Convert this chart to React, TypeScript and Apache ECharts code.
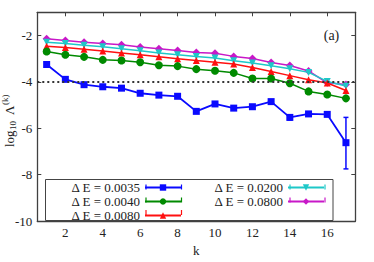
import React, { useEffect, useRef } from "react";
import * as echarts from "echarts";

const kValues = [1, 2, 3, 4, 5, 6, 7, 8, 9, 10, 11, 12, 13, 14, 15, 16, 17];
const seriesNames = ["Δ E = 0.0035", "Δ E = 0.0040", "Δ E = 0.0080", "Δ E = 0.0200", "Δ E = 0.0800"];
const dE0035 = [-3.25, -3.89, -4.12, -4.21, -4.27, -4.49, -4.57, -4.62, -5.27, -4.95, -5.13, -5.07, -4.85, -5.53, -5.38, -5.40, -6.62];
const dE0040 = [-2.69, -2.83, -2.92, -3.05, -3.08, -3.15, -3.28, -3.32, -3.45, -3.52, -3.61, -3.85, -3.85, -4.06, -4.41, -4.54, -4.71];
const dE0080 = [-2.46, -2.52, -2.59, -2.67, -2.75, -2.83, -2.92, -3.00, -3.08, -3.15, -3.23, -3.38, -3.55, -3.73, -3.91, -4.05, -4.37];
const dE0200 = [-2.29, -2.34, -2.42, -2.49, -2.57, -2.66, -2.75, -2.83, -2.90, -2.97, -3.09, -3.19, -3.30, -3.43, -3.59, -3.98, -4.18];
const dE0800 = [-2.14, -2.22, -2.29, -2.34, -2.40, -2.50, -2.57, -2.65, -2.73, -2.77, -2.90, -2.99, -3.16, -3.29, -3.53, -4.04, -4.11];
const errK = [14, 17];
const errLow = [-5.64, -7.75];
const errHigh = [-5.43, -5.53];
const xTickValues = [2, 4, 6, 8, 10, 12, 14, 16];
const thresholdValue = -4;

const FONT = "Liberation Serif";
const AXIS_COLOR = "#404040";
const colors = ["#0a0aff", "#008a00", "#ff1010", "#1ec8c8", "#c818c8"];
const symbols = ["rect", "circle", "triangle", "path://M0,0 L10,0 L5,9 Z", "diamond"];
const symbolSizes = [7, 8, 7, 7, 8];

export default function App() {
  const ref = useRef<HTMLDivElement>(null);
  useEffect(() => {
    if (!ref.current) return;
    const chart = echarts.init(ref.current, null, { renderer: "svg" });
    const allData = [dE0035, dE0040, dE0080, dE0200, dE0800];
    const lineSeries = allData.map((arr, i) => ({
      type: "line",
      name: seriesNames[i],
      data: kValues.map((k, j) => [k, arr[j]]),
      symbol: symbols[i],
      symbolSize: symbolSizes[i],
      color: colors[i],
      lineStyle: { color: colors[i], width: i === 0 ? 1.8 : 1.5 },
      itemStyle: { color: colors[i] },
      z: 2 + (5 - i) * 0.01,
      markLine:
        i === 0
          ? {
              silent: true,
              symbol: "none",
              label: { show: false },
              lineStyle: { color: "#333", width: 2, type: [2, 3] },
              data: [{ yAxis: thresholdValue }],
            }
          : undefined,
    }));
    const errData = errK.map((k, i) => [k, errLow[i], errHigh[i]]);
    const legendText = { fontFamily: FONT, fontSize: 13, color: "#222", lineHeight: 12 };
    const capStyle = (c: string) => ({ stroke: c, lineWidth: 1.2 });
    const legendCaps: any[] = [];
    const capRows = [
      { xs: [146, 181.5], ys: [187, 200, 212.5], cols: [colors[0], colors[1], colors[2]] },
      { xs: [290, 325], ys: [187, 200], cols: [colors[3], colors[4]] },
    ];
    capRows.forEach((g) => {
      g.ys.forEach((y, r) => {
        g.xs.forEach((x) => {
          legendCaps.push({ type: "line", z: 5, shape: { x1: x, y1: y - 2.5, x2: x, y2: y + 2.5 }, style: capStyle(g.cols[r]), silent: true });
        });
      });
    });
    const option: any = {
      animation: false,
      textStyle: { fontFamily: FONT },
      grid: { left: 37.3, top: 12.3, right: 18.7, bottom: 39.3, containLabel: false },
      xAxis: [
        {
          type: "value",
          min: 0.5,
          max: 17.5,
          position: "bottom",
          name: "k",
          nameLocation: "middle",
          nameGap: 19,
          nameTextStyle: { fontFamily: FONT, fontSize: 13, color: "#222", verticalAlign: "top" },
          axisLine: { show: true, lineStyle: { color: AXIS_COLOR, width: 1.3 } },
          axisTick: { show: true, inside: true, length: 4, customValues: xTickValues, lineStyle: { color: AXIS_COLOR } },
          axisLabel: { show: true, customValues: xTickValues, fontFamily: FONT, fontSize: 13, color: "#222", margin: 5 },
          splitLine: { show: false },
        },
        {
          type: "value",
          min: 0.5,
          max: 17.5,
          position: "top",
          axisLine: { show: true, onZero: false, lineStyle: { color: AXIS_COLOR, width: 1.3 } },
          axisTick: { show: true, inside: true, length: 4, customValues: xTickValues, lineStyle: { color: AXIS_COLOR } },
          axisLabel: { show: false },
          splitLine: { show: false },
        },
      ],
      yAxis: [
        {
          type: "value",
          min: -10,
          max: -1,
          interval: 2,
          position: "left",
          axisLine: { show: true, onZero: false, lineStyle: { color: AXIS_COLOR, width: 1.3 } },
          axisTick: { show: true, inside: true, length: 4, lineStyle: { color: AXIS_COLOR } },
          axisLabel: { fontFamily: FONT, fontSize: 13, color: "#222", margin: 5, showMaxLabel: false },
          splitLine: { show: false },
        },
        {
          type: "value",
          min: -10,
          max: -1,
          interval: 2,
          position: "right",
          axisLine: { show: true, onZero: false, lineStyle: { color: AXIS_COLOR, width: 1.3 } },
          axisTick: { show: true, inside: true, length: 4, lineStyle: { color: AXIS_COLOR } },
          axisLabel: { show: false },
          splitLine: { show: false },
        },
      ],
      legend: [
        {
          data: seriesNames.slice(0, 3),
          orient: "vertical",
          align: "right",
          right: 192,
          top: 181,
          padding: 0,
          itemGap: 1,
          itemWidth: 36,
          itemHeight: 8,
          selectedMode: false,
          textStyle: legendText,
        },
        {
          data: seriesNames.slice(3),
          orient: "vertical",
          align: "right",
          right: 49,
          top: 181,
          padding: 0,
          itemGap: 1,
          itemWidth: 36,
          itemHeight: 8,
          selectedMode: false,
          textStyle: legendText,
        },
      ],
      graphic: [
        {
          type: "rect",
          z: 3,
          shape: { x: 45.5, y: 179.5, width: 287.5, height: 41 },
          style: { fill: "#fff", stroke: "#444", lineWidth: 1 },
          silent: true,
        },
        ...legendCaps,
        {
          type: "text",
          x: 331.5,
          y: 35,
          style: { text: "(a)", fontFamily: FONT, fontSize: 14, fill: "#222", align: "center", verticalAlign: "middle" },
        },
        {
          type: "group",
          x: 9,
          y: 147,
          rotation: Math.PI / 2,
          children: [
            { type: "text", x: 0, y: 0, style: { text: "log", fontFamily: FONT, fontSize: 13, fill: "#222", align: "left", verticalAlign: "middle" } },
            { type: "text", x: 17, y: 3.5, style: { text: "10", fontFamily: FONT, fontSize: 9, fill: "#222", align: "left", verticalAlign: "middle" } },
            { type: "text", x: 32, y: 0, style: { text: "Λ", fontFamily: FONT, fontSize: 13, fill: "#222", align: "left", verticalAlign: "middle" } },
            { type: "text", x: 42, y: -4.5, style: { text: "(k)", fontFamily: FONT, fontSize: 9, fill: "#222", align: "left", verticalAlign: "middle" } },
          ],
        },
      ],
      series: [
        ...lineSeries,
        {
          type: "custom",
          name: "err",
          data: errData,
          z: 3,
          renderItem: (params: any, api: any) => {
            const x = api.value(0);
            const lo = api.coord([x, api.value(1)]);
            const hi = api.coord([x, api.value(2)]);
            const c = 2.5;
            const st = { stroke: colors[0], lineWidth: 1.5 };
            return {
              type: "group",
              children: [
                { type: "line", shape: { x1: lo[0], y1: lo[1], x2: hi[0], y2: hi[1] }, style: st },
                { type: "line", shape: { x1: lo[0] - c, y1: lo[1], x2: lo[0] + c, y2: lo[1] }, style: st },
                { type: "line", shape: { x1: hi[0] - c, y1: hi[1], x2: hi[0] + c, y2: hi[1] }, style: st },
              ],
            };
          },
        },
      ],
    };
    chart.setOption(option);
    return () => chart.dispose();
  }, []);
  return <div ref={ref} style={{ width: 374, height: 262, position: "absolute", left: 0, top: 0 }} />;
}
